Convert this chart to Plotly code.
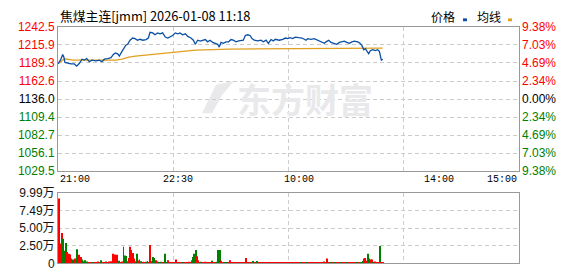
import plotly.graph_objects as go

# ---------------- data ----------------
title_text = "焦煤主连[jmm] 2026-01-08 11:18"
prev_settle = 1136.0
session_minutes = 345  # 21:00-23:00, 9:00-10:15, 10:30-11:30, 13:30-15:00

price_ticks = [1029.5, 1056.1, 1082.7, 1109.4, 1136.0, 1162.6, 1189.3, 1215.9, 1242.5]
pct_ticks = [-9.38, -7.03, -4.69, -2.34, 0.0, 2.34, 4.69, 7.03, 9.38]
time_labels = ["21:00", "22:30", "10:00", "14:00", "15:00"]
time_label_minutes = [0, 90, 180, 285, 345]
vol_ticks = [0, 2.50, 5.00, 7.49, 9.99]
vol_tick_labels = ["0", "2.50万", "5.00万", "7.49万", "9.99万"]

price_minute = [
    0, 2.2, 3.5, 4.3, 5.2, 7.2, 9.7, 12.2, 14, 16, 18, 19.7, 21.5, 23.4, 25.4, 28.4,
    30.9, 32.9, 34.7, 37.2, 39.7, 41.4, 42.9, 44.7, 45.9, 47.9, 49.6, 50.9, 52.1,
    53.9, 55.9, 57.6, 59.6, 61.4, 63.4, 65.9, 67.6, 68.9, 70.9, 72.6, 74.6, 76.3,
    78.3, 80.3, 82.1, 83.3, 85.8, 87.8, 89.6, 91.3, 93.3, 95.3, 97.1, 99.5, 101.3,
    102.8, 104.5, 106.5, 108.3, 110.2, 112, 113.8, 115.8, 117.7, 119.5, 120.7, 122,
    123.7, 125.7, 127.7, 129.5, 131.2, 133.2, 135.2, 137, 138.7, 140.2, 142, 143.7,
    145.2, 146.9, 149.4, 151.9, 153.6, 155.7, 157.4, 159.4, 161.1, 162.6, 164.4,
    165.6, 168.2, 170.1, 171.9, 173.6, 175.6, 177.6, 180.1, 182.6, 184.3, 185.6,
    186.9, 189.3, 191.8, 194.3, 196.8, 199.3, 200.6, 202.6, 204.3, 206.8, 208.6,
    210.6, 212.6, 214.3, 216.1, 218, 220, 221.8, 224.3, 226, 227.5, 228.8, 230,
    231.3, 232.5, 233.7, 235.5, 237.5, 239.3, 240.5, 241.3, 242, 243,
]
price = [
    1188.0, 1194.9, 1201.9, 1198.6, 1190.2, 1188.8, 1187.9, 1187.9, 1184.6, 1188.8,
    1194.9, 1193.5, 1195.8, 1191.1, 1193.5, 1192.5, 1193.5, 1191.1, 1194.9, 1195.8,
    1197.2, 1201.9, 1204.2, 1202.8, 1199.5, 1206.5, 1211.2, 1215.9, 1216.9, 1222.9,
    1226.1, 1225.2, 1222.9, 1224.3, 1222.9, 1223.9, 1226.1, 1234.5, 1233.7, 1230.9,
    1233.7, 1232.3, 1233.7, 1227.5, 1226.1, 1227.5, 1229.9, 1233.7, 1232.3, 1233.7,
    1230.9, 1232.3, 1228.5, 1226.1, 1222.9, 1216.9, 1222.9, 1221.5, 1222.9, 1223.9,
    1220.5, 1222.9, 1219.7, 1218.3, 1216.9, 1212.7, 1219.7, 1218.3, 1220.5, 1220.5,
    1223.9, 1222.9, 1220.5, 1221.9, 1221.9, 1222.9, 1229.9, 1230.9, 1229.9, 1225.2,
    1222.9, 1221.9, 1222.9, 1220.5, 1222.9, 1218.3, 1223.9, 1221.9, 1224.3, 1223.9,
    1222.9, 1224.3, 1226.1, 1225.2, 1226.7, 1225.2, 1227.5, 1226.7, 1226.1, 1224.3,
    1222.9, 1225.2, 1224.3, 1225.2, 1222.9, 1221.5, 1218.3, 1220.5, 1222.9, 1219.7,
    1218.3, 1216.9, 1219.7, 1220.5, 1221.5, 1219.7, 1218.3, 1220.5, 1221.5, 1220.5,
    1218.3, 1214.9, 1208.9, 1210.3, 1206.5, 1202.8, 1207.5, 1208.9, 1207.5, 1208.9,
    1206.5, 1199.5, 1193.5, 1194.9,
]

avg_minute = [0, 3, 5, 11, 43, 48, 53, 58, 63, 68, 73, 78, 82, 90, 103, 128, 175, 200, 243]
avg_price = [1188.0, 1193.0, 1195.5, 1193.5, 1193.5, 1194.9, 1198.1, 1199.5, 1200.5,
             1201.9, 1202.8, 1204.2, 1205.1, 1206.5, 1208.4, 1209.8, 1210.5, 1211.0, 1211.2]

# volume per minute (万手), minutes 1..243
volume = [
    9.2, 2.8, 4.3, 3.5, 1.8, 2.9, 1.6, 1.35, 1.25, 0.7,
    0.55, 0.45, 0.7, 2.0, 0.7, 1.2, 0.9, 0.55, 0.3, 0.45,
    0.2, 0.25, 0.2, 0.15, 0.2, 0.15, 0.2, 0.15, 0.2, 0.25,
    0.2, 0.45, 0.2, 0.15, 0.2, 0.25, 0.2, 0.25, 0.2, 0.3,
    1.35, 0.3, 1.25, 1.2, 0.36, 0.36, 0.2, 0.25, 2.35, 1.1,
    1.05, 0.3, 0.75, 2.35, 1.9, 1.45, 0.7, 0.3, 1.35, 0.4,
    0.54, 0.3, 0.2, 0.23, 0.2, 0.23, 0.32, 0.2, 2.6, 0.3,
    0.9, 0.77, 0.45, 0.25, 0.23, 0.2, 0.23, 0.2, 0.18, 1.35,
    0.2, 0.45, 0.2, 0.18, 0.14, 0.2, 0.18, 0.54, 0.18, 0.14,
    0.18, 0.14, 0.18, 0.14, 0.18, 0.14, 0.18, 0.23, 0.2, 0.45,
    0.9, 1.35, 1.9, 1.0, 0.45, 0.2, 0.23, 0.2, 0.18, 0.23,
    0.18, 0.2, 0.18, 0.14, 0.35, 0.2, 0.14, 0.14, 0.23, 1.9,
    1.9, 0.36, 0.14, 0.18, 0.14, 0.18, 0.14, 0.18, 0.45, 0.18,
    0.14, 0.18, 0.14, 0.14, 0.18, 0.14, 0.14, 0.18, 0.14, 0.14,
    0.77, 0.14, 0.14, 0.18, 0.14, 0.32, 0.14, 0.18, 0.32, 0.14,
    0.14, 0.18, 0.14, 0.14, 0.18, 0.14, 0.14, 0.14, 0.18, 0.14,
    0.14, 0.14, 0.18, 0.14, 0.14, 0.18, 0.14, 0.14, 0.14, 0.14,
    0.14, 0.14, 0.18, 0.14, 0.14, 0.14, 0.18, 0.14, 0.14, 0.14,
    0.14, 0.14, 0.14, 0.18, 0.14, 0.14, 0.14, 0.18, 0.14, 0.14,
    0.14, 0.14, 0.18, 0.14, 0.14, 0.14, 0.14, 0.18, 0.27, 0.14,
    0.68, 0.14, 0.14, 0.14, 0.14, 0.14, 0.14, 0.14, 0.14, 0.14,
    0.14, 0.14, 0.14, 0.14, 0.14, 0.14, 0.14, 0.14, 0.14, 0.14,
    0.14, 0.14, 0.14, 0.14, 0.14, 0.14, 0.14, 0.32, 0.68, 0.77,
    0.36, 1.35, 0.68, 0.54, 0.54, 0.18, 0.27, 0.14, 0.14, 0.14,
    2.47, 0.14, 0.14,
]
vol_dir = (
    "RRRGGGRRRR" "GGRGRRRGGG" "RGRRRGRRRR" "RGRRRGRRGR" "RRRRGGRRRG"
    "GRRRGRRRGR" "RGRGRGRRRR" "GGRRGRGRRG" "GRRRGRRRRR" "RRGRRRRRRR"
    "GGGRRRGRRR" "RGRRGRRRGG" "GRRRGGRRRR" "RRRRRRRRRR" "RRRRRGRGGR"
    "RRRRRRRRRR" "RRRRRRRRRR" "RRRRRRRRRR" "RGRRRGRRRG" "RRGRRGRRGR"
    "RGRGRRGRRR" "RGRRRGRRRG" "RRRGRRGGRR" "RGGRRGRGRR" "GRR"
)
vol_minute = list(range(1, len(volume) + 1))

# ---------------- styling / layout ----------------
W, H = 578, 276
RED, GREEN, BLACK = "#FF0000", "#008000", "#000000"
GRID = "#CCCCCC"
BORDER = "#999999"
X0, X1 = 58, 519
MAIN_TOP, MAIN_BOT = 21, 173
VOL_TOP, VOL_BOT = 196, 270


def fx(px):
    return px / W


def fy(py):
    return 1 - py / H


def colored(txt, val, ref):
    c = RED if val > ref else (GREEN if val < ref else BLACK)
    return f"<span style='color:{c}'>{txt}</span>"


price_ticktext = [colored(f"{v:.1f}", v, prev_settle) for v in price_ticks]
pct_ticktext = [colored(f"{abs(v):.2f}%", v, 0) for v in pct_ticks]
pct = [(p / prev_settle - 1) * 100 for p in price]
grid_x = [session_minutes * i / 4 for i in (1, 2, 3)]

fig = go.Figure()
fig.add_trace(go.Scatter(x=avg_minute, y=avg_price, mode="lines",
                         line=dict(color="#E0A020", width=1.3),
                         xaxis="x", yaxis="y", hoverinfo="skip"))
fig.add_trace(go.Scatter(x=price_minute, y=price, mode="lines",
                         line=dict(color="#0A4FA5", width=1.3),
                         xaxis="x", yaxis="y", hoverinfo="skip"))
fig.add_trace(go.Scatter(x=price_minute, y=pct, mode="lines",
                         line=dict(width=0, color="rgba(0,0,0,0)"),
                         xaxis="x", yaxis="y3", hoverinfo="skip"))
fig.add_trace(go.Bar(x=vol_minute, y=volume, width=0.7,
                     marker=dict(color=[RED if d == "R" else GREEN for d in vol_dir],
                                 line=dict(width=0)),
                     xaxis="x2", yaxis="y2", hoverinfo="skip"))

common_x = dict(domain=[fx(X0), fx(X1)], range=[0, session_minutes], tickvals=grid_x,
                showticklabels=False, showgrid=True, gridcolor=GRID, griddash="4px,3px",
                gridwidth=1, showline=True, mirror=True, linecolor=BORDER, linewidth=1,
                zeroline=False, ticks="", fixedrange=True)
tickfont = dict(family="Liberation Sans, Arial, sans-serif", size=12, color=BLACK)

fig.update_layout(
    width=W, height=H, margin=dict(l=0, r=0, t=0, b=0), autosize=False,
    paper_bgcolor="white", plot_bgcolor="white", showlegend=False,
    xaxis=dict(common_x, anchor="y"),
    xaxis2=dict(common_x, anchor="y2"),
    yaxis=dict(domain=[fy(MAIN_BOT), fy(MAIN_TOP)], range=[price_ticks[0], price_ticks[-1]],
               tickvals=price_ticks, ticktext=price_ticktext, tickfont=tickfont,
               showgrid=True, gridcolor=GRID, griddash="4px,3px", gridwidth=1,
               showline=True, mirror=True, linecolor=BORDER, linewidth=1,
               zeroline=False, ticks="", ticklabelstandoff=0, anchor="x"),
    yaxis3=dict(overlaying="y", side="right", anchor="x",
                range=[pct_ticks[0] - 0.001, pct_ticks[-1] + 0.001],
                tickvals=pct_ticks, ticktext=pct_ticktext, tickfont=tickfont,
                showgrid=False, zeroline=False, showline=False, ticks="",
                ticklabelstandoff=2),
    yaxis2=dict(domain=[fy(VOL_BOT), fy(VOL_TOP)], range=[0, vol_ticks[-1] + 0.001],
                tickvals=vol_ticks, ticktext=vol_tick_labels,
                tickfont=dict(family="Liberation Sans, Noto Sans CJK SC", size=12, color="#111"),
                showgrid=True, gridcolor=GRID, griddash="4px,3px", gridwidth=1,
                showline=True, mirror=True, linecolor=BORDER, linewidth=1,
                zeroline=False, ticks="", ticklabelstandoff=0, anchor="x2"),
)

annotations = []
# title
annotations.append(dict(text=title_text, xref="paper", yref="paper", x=fx(58), y=fy(9),
                        xanchor="left", yanchor="middle", showarrow=False,
                        font=dict(family="Noto Sans CJK SC", size=12.8, color=BLACK)))
# time labels
anchors = ["left", "center", "center", "center", "right"]
for lab, m, a in zip(time_labels, time_label_minutes, anchors):
    annotations.append(dict(text=lab, xref="x", yref="paper", x=m, y=fy(182),
                            xanchor=a, yanchor="middle", showarrow=False,
                            font=dict(family="Liberation Mono, monospace", size=10, color=BLACK)))
# legend
annotations.append(dict(text="价格", xref="paper", yref="paper", x=fx(443), y=fy(10),
                        xanchor="center", yanchor="middle", showarrow=False,
                        font=dict(family="Noto Sans CJK SC", size=12, color=BLACK)))
annotations.append(dict(text="均线", xref="paper", yref="paper", x=fx(488.5), y=fy(10),
                        xanchor="center", yanchor="middle", showarrow=False,
                        font=dict(family="Noto Sans CJK SC", size=12, color=BLACK)))
# watermark
annotations.append(dict(text="<b>东方财富</b>", xref="paper", yref="paper", x=fx(305), y=fy(96),
                        xanchor="center", yanchor="middle", showarrow=False,
                        font=dict(family="Noto Sans CJK SC", size=34, color="#E9E9EC")))
fig.update_layout(annotations=annotations)

shapes = [
    dict(type="rect", xref="paper", yref="paper", x0=fx(463), x1=fx(467), y0=fy(15), y1=fy(12),
         fillcolor="#0A4FA5", line=dict(width=0)),
    dict(type="rect", xref="paper", yref="paper", x0=fx(508), x1=fx(512), y0=fy(15), y1=fy(12),
         fillcolor="#E0A020", line=dict(width=0)),
    # watermark swoosh
    dict(type="path", xref="paper", yref="paper", layer="below",
         path=(f"M {fx(202)} {fy(112)} L {fx(216)} {fy(82)} L {fx(234)} {fy(78)} "
               f"L {fx(222)} {fy(93)} L {fx(212)} {fy(112)} Z"),
         fillcolor="#E9E9EC", line=dict(width=0)),
]
fig.update_layout(shapes=shapes)

fig.write_html("out.html", config={"displayModeBar": False})
